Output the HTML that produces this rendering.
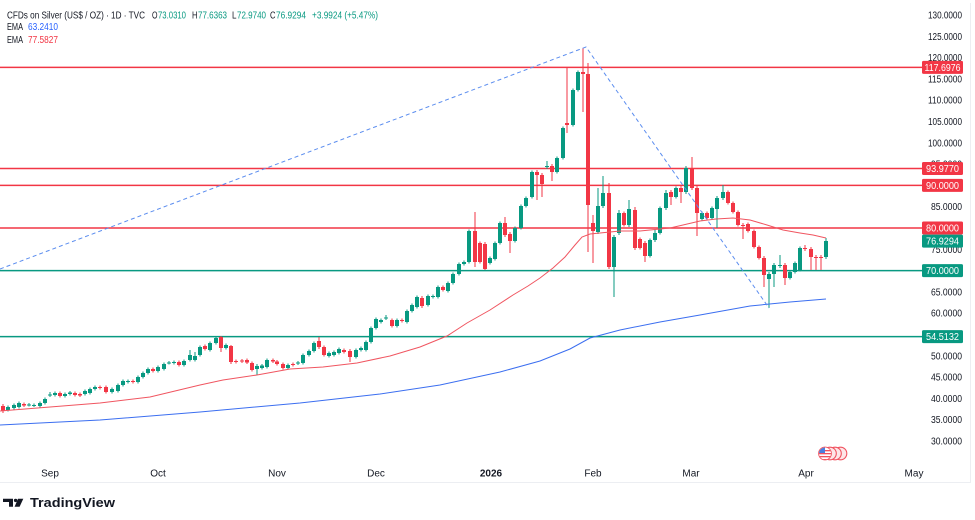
<!DOCTYPE html>
<html><head><meta charset="utf-8"><style>
html,body{margin:0;padding:0;background:#fff;}
svg{display:block;font-family:"Liberation Sans",Arial,sans-serif;}
</style></head><body>
<svg width="975" height="520" viewBox="0 0 975 520" xmlns="http://www.w3.org/2000/svg">
<rect width="975" height="520" fill="#fff"/>
<path d="M0 482.5 H970.5 V3" fill="none" stroke="#eceef2" stroke-width="1"/>
<!-- horizontal levels -->
<g stroke-width="1.5">
<line x1="0" x2="922" y1="67.4" y2="67.4" stroke="#f23645"/>
<line x1="0" x2="922" y1="168.5" y2="168.5" stroke="#f23645"/>
<line x1="0" x2="922" y1="185.4" y2="185.4" stroke="#f23645"/>
<line x1="0" x2="922" y1="228" y2="228" stroke="#f23645"/>
<line x1="0" x2="922" y1="270.6" y2="270.6" stroke="#089981"/>
<line x1="0" x2="922" y1="336.6" y2="336.6" stroke="#089981"/>
</g>
<!-- candles: wicks -->
<path fill="none" stroke="#089981" stroke-width="1" d="M8 405.5V411.5 M14 403.5V409.5 M19 401.5V408.5 M29 403V406.5 M34 403.5V407 M40 401.5V407.5 M45 397.5V404.5 M50 392V397 M55 391.5V396.5 M65 392.5V397.5 M70 391V395.5 M85 389.5V395.5 M90 387.5V394.5 M95 385.5V390.5 M112 387.5V393.5 M118 383.5V392.5 M123 379.5V386.5 M128 379.5V383.5 M138 375.5V383.5 M143 371.5V378.5 M148 367.5V374.5 M158 365.5V372.5 M164 362.5V370.5 M169 361V364.5 M174 360.5V364.5 M184 359.5V366.5 M190 350V361.5 M195 352V361.5 M200 345.5V356.5 M210 341.5V351.5 M216 336.5V344.5 M226 343.5V349.5 M257 364V375 M262 364V369.5 M267 358.5V368.5 M288 363.5V369.5 M298 361V365 M303 353.5V364.5 M309 349.5V356.5 M314 341.5V352.5 M329 351.5V357.5 M334 350.5V356.5 M339 347.5V354.5 M356 348.5V358.5 M361 346.5V351.5 M366 340.5V351.5 M371 326.5V343.5 M376 317.5V329.5 M381 318.5V323.5 M386 315V320 M397 318.5V327.5 M407 309.5V323.5 M412 303.5V312.5 M417 295.5V308.5 M428 294.5V306.5 M433 294.5V298.5 M438 285.5V298.5 M448 281.5V292.5 M453 272.5V284.5 M459 262.5V275.5 M464 260.5V265.5 M469 229.5V263.5 M490 256.5V264.5 M495 241.5V260.5 M500 221.5V244.5 M515 226.5V242.5 M521 204.5V229.5 M526 196.5V207.5 M532 170.5V198.5 M547 161V169 M557 156.5V173.5 M563 126.5V159.5 M573 88.5V126.5 M578 70.5V91.5 M598 188V234 M603 176V208 M614 235V297 M619 210V235 M629 200V227 M650 238.5V257.5 M655 230V242 M660 206.5V234.5 M666 190V210 M676 186.5V198.5 M686 166V194 M702 211.5V220.5 M712 206.5V219.5 M717 196V228 M723 185V200 M769 272V308 M774 263V287 M780 255V268 M790 270.5V279.5 M795 261.5V273.5 M800 246.5V271.5 M826 238V259"/>
<path fill="none" stroke="#f23645" stroke-width="1" d="M3 404V413 M24 402.5V407 M60 391.5V397.5 M75 391.5V396.5 M80 392.5V397 M100 385.5V389.5 M106 385.5V393.5 M133 379.5V383.5 M153 367.5V372.5 M179 360.5V366.5 M205 344.5V350.5 M221 336V352 M231 345V364 M236 359.5V363.5 M242 359V363 M247 358.5V364 M252 361.5V371.5 M273 358.5V363 M277 360V365.5 M283 362.5V369.5 M293 362.5V366.5 M319 337V349 M324 345.5V356.5 M344 348.5V353.5 M350 349V362 M392 318.5V327.5 M402 318.5V322.5 M422 296V308 M443 285.5V291.5 M475 212V267 M480 241.5V263.5 M485 242V270 M505 217V237 M510 232V253 M537 170V200 M542 173V197 M552 164V181 M567 67V133 M583 48V112 M588 63V252 M593 215V263 M609 183V269 M624 211.5V226.5 M635 207V250 M640 237.5V249.5 M645 241V262 M671 190V205 M681 186V203 M692 157V190 M697 186V236 M707 211.5V219.5 M728 190.5V204.5 M733 201.5V213.5 M738 210.5V226.5 M743 223V239 M748 222.5V232.5 M754 229.5V248.5 M759 245.5V259.5 M764 256V287 M785 263V285 M805 245V251 M811 247V270 M816 255V270 M821 255V270"/>
<!-- candles: bodies -->
<path fill="#089981" d="M6 407h4v3h-4z M12 405h4v3h-4z M17 403h4v4h-4z M27 404.5h4v1h-4z M32 405h4v1h-4z M38 403h4v3h-4z M43 399h4v4h-4z M48 394.5h4v1h-4z M53 393h4v2h-4z M63 394h4v2h-4z M68 392.5h4v1.5h-4z M83 391h4v3h-4z M88 389h4v4h-4z M93 387h4v2h-4z M110 389h4v3h-4z M116 385h4v6h-4z M121 381h4v4h-4z M126 381h4v1h-4z M136 377h4v5h-4z M141 373h4v4h-4z M146 369h4v4h-4z M156 367h4v4h-4z M162 364h4v5h-4z M167 362.5h4v1h-4z M172 362h4v1h-4z M182 361h4v4h-4z M188 355h4v5h-4z M193 356h4v4h-4z M198 347h4v8h-4z M208 343h4v7h-4z M214 338h4v5h-4z M224 345h4v3h-4z M255 366h4v3h-4z M260 365.5h4v2.5h-4z M265 360h4v7h-4z M286 365h4v3h-4z M296 362.5h4v1h-4z M301 355h4v8h-4z M307 351h4v4h-4z M312 343h4v8h-4z M327 353h4v3h-4z M332 352h4v3h-4z M337 349h4v4h-4z M354 350h4v7h-4z M359 348h4v2h-4z M364 342h4v8h-4z M369 328h4v14h-4z M374 319h4v9h-4z M379 320h4v2h-4z M384 317.5h4v1h-4z M395 320h4v6h-4z M405 311h4v11h-4z M410 305h4v6h-4z M415 297h4v10h-4z M426 296h4v9h-4z M431 296h4v1h-4z M436 287h4v10h-4z M446 283h4v8h-4z M451 274h4v9h-4z M457 264h4v10h-4z M462 262h4v2h-4z M467 231h4v31h-4z M488 258h4v5h-4z M493 243h4v16h-4z M498 223h4v20h-4z M513 228h4v13h-4z M519 206h4v22h-4z M524 198h4v8h-4z M530 172h4v25h-4z M545 166h4v1h-4z M555 158h4v14h-4z M561 128h4v30h-4z M571 90h4v35h-4z M576 72h4v18h-4z M596 206h4v26h-4z M601 193h4v13h-4z M612 237h4v30h-4z M617 213h4v20h-4z M627 209h4v16h-4z M648 240h4v16h-4z M653 233h4v7h-4z M658 208h4v25h-4z M664 193h4v15h-4z M674 188h4v9h-4z M684 168h4v24h-4z M700 213h4v6h-4z M710 208h4v10h-4z M715 198h4v11h-4z M721 192h4v6h-4z M767 274h4v5h-4z M772 265h4v9h-4z M778 265h4v1h-4z M788 272h4v6h-4z M793 263h4v9h-4z M798 248h4v22h-4z M824 241h4v16h-4z"/>
<path fill="#f23645" d="M1 406h4v5h-4z M22 404h4v1.5h-4z M58 393h4v3h-4z M73 393h4v2h-4z M78 394h4v1.5h-4z M98 387h4v1h-4z M104 387h4v5h-4z M131 381h4v1h-4z M151 369h4v2h-4z M177 362h4v3h-4z M203 346h4v3h-4z M219 337h4v11h-4z M229 346h4v16h-4z M234 361h4v1h-4z M240 360.5h4v1h-4z M245 360h4v2.5h-4z M250 363h4v7h-4z M271 360h4v1.5h-4z M275 361.5h4v2.5h-4z M281 364h4v4h-4z M291 364h4v1h-4z M317 341h4v6h-4z M322 347h4v8h-4z M342 350h4v2h-4z M348 351h4v6h-4z M390 320h4v6h-4z M400 320h4v1h-4z M420 298h4v8h-4z M441 287h4v3h-4z M473 231h4v31h-4z M478 243h4v19h-4z M483 244h4v25h-4z M503 223h4v12h-4z M508 234h4v7h-4z M535 172h4v3h-4z M540 175h4v9h-4z M550 166h4v6h-4z M565 123h4v2h-4z M581 72h4v2h-4z M586 74h4v131h-4z M591 223h4v8h-4z M607 193h4v74h-4z M622 213h4v12h-4z M633 210h4v38h-4z M638 239h4v9h-4z M643 243h4v13h-4z M669 192h4v5h-4z M679 188h4v4h-4z M690 168h4v20h-4z M695 188h4v25h-4z M705 213h4v5h-4z M726 192h4v11h-4z M731 203h4v9h-4z M736 212h4v13h-4z M741 225h4v1h-4z M746 224h4v7h-4z M752 231h4v16h-4z M757 247h4v11h-4z M762 258h4v17h-4z M783 265h4v13h-4z M803 248h4v1h-4z M809 249h4v8h-4z M814 257h4v1h-4z M819 257h4v1h-4z"/>
<!-- EMAs -->
<polyline fill="none" stroke="#f05560" stroke-width="1" points="0,411 50,407 100,403 150,397 200,385 223,380 257,375 290,369 323,367 357,363 390,356 420,347 447,336 467,323 490,310 513,295 528,286 540,278 553,268 565,257 575,245 582,237 590,234 600,233 620,231 640,231 670,228 683,225 700,221 716,219 733,218 750,220 767,225 783,230 800,233 813,235 826,238"/>
<polyline fill="none" stroke="#3b6ef0" stroke-width="1" points="0,425 100,420 200,412 300,403 380,394 440,385 500,372 540,361 570,349 590,338 620,330 660,322 700,315 750,306 790,302 826,299"/>
<polyline fill="none" stroke="#5b8def" stroke-width="1" stroke-dasharray="4 3" points="0,269 586,47 769,308"/>
<!-- price axis -->
<g font-size="10" fill="#131722" text-anchor="end">
<text x="962" y="18.5" textLength="34" lengthAdjust="spacingAndGlyphs">130.0000</text>
<text x="962" y="39.8" textLength="34" lengthAdjust="spacingAndGlyphs">125.0000</text>
<text x="962" y="61.1" textLength="34" lengthAdjust="spacingAndGlyphs">120.0000</text>
<text x="962" y="82.4" textLength="34" lengthAdjust="spacingAndGlyphs">115.0000</text>
<text x="962" y="103.7" textLength="34" lengthAdjust="spacingAndGlyphs">110.0000</text>
<text x="962" y="125" textLength="34" lengthAdjust="spacingAndGlyphs">105.0000</text>
<text x="962" y="146.3" textLength="34" lengthAdjust="spacingAndGlyphs">100.0000</text>
<text x="962" y="167.6" textLength="31" lengthAdjust="spacingAndGlyphs">95.0000</text>
<text x="962" y="188.9" textLength="31" lengthAdjust="spacingAndGlyphs">90.0000</text>
<text x="962" y="210.2" textLength="31" lengthAdjust="spacingAndGlyphs">85.0000</text>
<text x="962" y="231.5" textLength="31" lengthAdjust="spacingAndGlyphs">80.0000</text>
<text x="962" y="252.8" textLength="31" lengthAdjust="spacingAndGlyphs">75.0000</text>
<text x="962" y="274.1" textLength="31" lengthAdjust="spacingAndGlyphs">70.0000</text>
<text x="962" y="295.4" textLength="31" lengthAdjust="spacingAndGlyphs">65.0000</text>
<text x="962" y="316.7" textLength="31" lengthAdjust="spacingAndGlyphs">60.0000</text>
<text x="962" y="338" textLength="31" lengthAdjust="spacingAndGlyphs">55.0000</text>
<text x="962" y="359.3" textLength="31" lengthAdjust="spacingAndGlyphs">50.0000</text>
<text x="962" y="380.6" textLength="31" lengthAdjust="spacingAndGlyphs">45.0000</text>
<text x="962" y="401.9" textLength="31" lengthAdjust="spacingAndGlyphs">40.0000</text>
<text x="962" y="423.2" textLength="31" lengthAdjust="spacingAndGlyphs">35.0000</text>
<text x="962" y="444.5" textLength="31" lengthAdjust="spacingAndGlyphs">30.0000</text>
</g>
<!-- level labels -->
<g font-size="10" fill="#fff" text-anchor="middle">
<rect x="922" y="60.9" width="41" height="13" rx="1.5" fill="#f23645"/>
<text x="942.5" y="71" textLength="36" lengthAdjust="spacingAndGlyphs">117.6976</text>
<rect x="922" y="162" width="41" height="13" rx="1.5" fill="#f23645"/>
<text x="942.5" y="172.1" textLength="33" lengthAdjust="spacingAndGlyphs">93.9770</text>
<rect x="922" y="178.9" width="41" height="13" rx="1.5" fill="#f23645"/>
<text x="942.5" y="189" textLength="33" lengthAdjust="spacingAndGlyphs">90.0000</text>
<rect x="922" y="221.5" width="41" height="13" rx="1.5" fill="#f23645"/>
<text x="942.5" y="231.6" textLength="33" lengthAdjust="spacingAndGlyphs">80.0000</text>
<rect x="922" y="234.6" width="41" height="13" rx="1.5" fill="#089981"/>
<text x="942.5" y="244.7" textLength="33" lengthAdjust="spacingAndGlyphs">76.9294</text>
<rect x="922" y="264.1" width="41" height="13" rx="1.5" fill="#089981"/>
<text x="942.5" y="274.2" textLength="33" lengthAdjust="spacingAndGlyphs">70.0000</text>
<rect x="922" y="330.1" width="41" height="13" rx="1.5" fill="#089981"/>
<text x="942.5" y="340.2" textLength="33" lengthAdjust="spacingAndGlyphs">54.5132</text>
</g>
<!-- legend -->
<g font-size="10" fill="#131722">
<text x="7" y="18.5" textLength="138" lengthAdjust="spacingAndGlyphs">CFDs on Silver (US$ / OZ) · 1D · TVC</text>
<text x="152" y="18.5" textLength="5.5" lengthAdjust="spacingAndGlyphs">O</text>
<text x="158" y="18.5" fill="#089981" textLength="28" lengthAdjust="spacingAndGlyphs">73.0310</text>
<text x="192" y="18.5" textLength="5.5" lengthAdjust="spacingAndGlyphs">H</text>
<text x="198" y="18.5" fill="#089981" textLength="29" lengthAdjust="spacingAndGlyphs">77.6363</text>
<text x="232" y="18.5" textLength="4.5" lengthAdjust="spacingAndGlyphs">L</text>
<text x="237" y="18.5" fill="#089981" textLength="29" lengthAdjust="spacingAndGlyphs">72.9740</text>
<text x="270" y="18.5" textLength="5.5" lengthAdjust="spacingAndGlyphs">C</text>
<text x="276" y="18.5" fill="#089981" textLength="30" lengthAdjust="spacingAndGlyphs">76.9294</text>
<text x="312" y="18.5" fill="#089981" textLength="66" lengthAdjust="spacingAndGlyphs">+3.9924 (+5.47%)</text>
<text x="7" y="30" textLength="16" lengthAdjust="spacingAndGlyphs">EMA</text>
<text x="28" y="30" fill="#2962ff" textLength="30" lengthAdjust="spacingAndGlyphs">63.2410</text>
<text x="7" y="43" textLength="16" lengthAdjust="spacingAndGlyphs">EMA</text>
<text x="28" y="43" fill="#f23645" textLength="30" lengthAdjust="spacingAndGlyphs">77.5827</text>
</g>
<!-- time axis -->
<g font-size="10" fill="#131722" text-anchor="middle">
<text x="50" y="476.5">Sep</text>
<text x="158" y="476.5">Oct</text>
<text x="277" y="476.5">Nov</text>
<text x="376" y="476.5">Dec</text>
<text x="491" y="476.5" font-weight="bold">2026</text>
<text x="593" y="476.5">Feb</text>
<text x="691" y="476.5">Mar</text>
<text x="806" y="476.5">Apr</text>
<text x="914" y="476.5">May</text>
</g>
<!-- event icon -->
<defs><clipPath id="fc"><circle cx="825" cy="453.5" r="6"/></clipPath></defs>
<g stroke="#f0525f" stroke-width="1.1">
<circle cx="840.5" cy="453.5" r="6.3" fill="#fde6e8"/>
<circle cx="835" cy="453.5" r="6.3" fill="#fde6e8"/>
<circle cx="830" cy="453.5" r="6.3" fill="#fde6e8"/>
<circle cx="825" cy="453.5" r="6.3" fill="#fff"/>
</g>
<g clip-path="url(#fc)">
<rect x="818" y="447" width="14" height="14" fill="#fff"/>
<rect x="818" y="450" width="14" height="1.3" fill="#f0525f"/>
<rect x="818" y="453" width="14" height="1.3" fill="#f0525f"/>
<rect x="818" y="456" width="14" height="1.3" fill="#f0525f"/>
<rect x="818" y="459" width="14" height="1.3" fill="#f0525f"/>
<rect x="818" y="447" width="7" height="6" fill="#4a7fe0"/>
</g>
<!-- logo -->
<g fill="#131722">
<path d="M3 498.7 H13 V506.7 H9 V502 H3 Z"/>
<circle cx="15.6" cy="500.4" r="1.7"/>
<path d="M18 498.7 H23.3 L19.6 506.7 H14.6 Z"/>
<text x="30" y="507" font-size="12.5" font-weight="bold" textLength="85" lengthAdjust="spacingAndGlyphs">TradingView</text>
</g>
</svg>
</body></html>
